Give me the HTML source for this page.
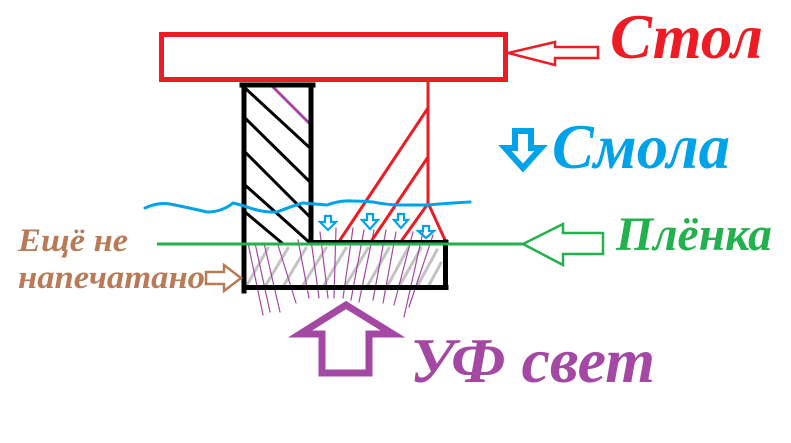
<!DOCTYPE html>
<html>
<head>
<meta charset="utf-8">
<style>
html,body{margin:0;padding:0;background:#fff;}
svg{display:block;}
text{font-family:"Liberation Serif","DejaVu Serif",serif;font-weight:bold;font-style:italic;}
</style>
</head>
<body>
<svg width="791" height="443" viewBox="0 0 791 443" xmlns="http://www.w3.org/2000/svg">
<rect x="0" y="0" width="791" height="443" fill="#fff"/>

<!-- gray hatch in printed zone -->
<g stroke="#c3c3c3" stroke-width="3" stroke-linecap="round">
<line x1="247" y1="285" x2="268" y2="248"/>
<line x1="266" y1="285" x2="288" y2="248"/>
<line x1="284" y1="285" x2="306" y2="248"/>
<line x1="303" y1="285" x2="326" y2="248"/>
<line x1="324" y1="285" x2="346" y2="248"/>
<line x1="346" y1="285" x2="368" y2="248"/>
<line x1="368" y1="285" x2="389" y2="248"/>
<line x1="388" y1="285" x2="408" y2="248"/>
<line x1="400" y1="285" x2="421" y2="248"/>
<line x1="418" y1="285" x2="437" y2="250"/>
<line x1="429" y1="285" x2="441" y2="263"/>
</g>

<!-- purple rays -->
<g stroke="#a349a4" stroke-width="1.2" stroke-linecap="round">
<line x1="248" y1="243" x2="263" y2="315"/>
<line x1="255" y1="243" x2="270" y2="312"/>
<line x1="264" y1="243" x2="280" y2="312"/>
<line x1="278" y1="245" x2="296" y2="303"/>
<line x1="298" y1="240" x2="309" y2="298"/>
<line x1="311" y1="240" x2="319" y2="298"/>
<line x1="320" y1="232" x2="328" y2="298"/>
<line x1="336" y1="228" x2="334" y2="298"/>
<line x1="353" y1="228" x2="343" y2="298"/>
<line x1="364" y1="230" x2="351" y2="300"/>
<line x1="374" y1="230" x2="359" y2="302"/>
<line x1="386" y1="230" x2="373" y2="300"/>
<line x1="396" y1="232" x2="383" y2="303"/>
<line x1="413" y1="232" x2="394" y2="305"/>
<line x1="423" y1="232" x2="404" y2="317"/>
<line x1="433" y1="235" x2="409" y2="307"/>
</g>

<!-- red table -->
<rect x="161.5" y="34.5" width="344" height="45" fill="none" stroke="#ed1c24" stroke-width="5"/>
<g stroke="#ed1c24" stroke-width="3" stroke-linecap="round" fill="none">
<line x1="428" y1="82" x2="428" y2="205"/>
<line x1="428" y1="108" x2="340" y2="240"/>
<line x1="428" y1="157" x2="372" y2="240"/>
<line x1="427" y1="205" x2="402" y2="240"/>
<line x1="429" y1="205" x2="445" y2="240"/>
</g>
<!-- red arrow -->
<path d="M598,47 L555,47 L555,42 L508,53 L555,65 L555,58 L598,58 Z" fill="none" stroke="#ed1c24" stroke-width="2.5" stroke-linejoin="miter"/>

<!-- black hatch lines -->
<g stroke="#000" stroke-width="3" stroke-linecap="round">
<line x1="245" y1="88" x2="310" y2="148"/>
<line x1="245" y1="118" x2="310" y2="182"/>
<line x1="245" y1="152" x2="310" y2="217"/>
<line x1="245" y1="185" x2="309" y2="242"/>
<line x1="245" y1="212" x2="282" y2="243"/>
</g>
<!-- purple small line -->
<line x1="273" y1="87" x2="309" y2="123" stroke="#a349a4" stroke-width="3" stroke-linecap="round"/>

<!-- black L shape -->
<g stroke="#000" stroke-width="5" stroke-linecap="square" fill="none">
<line x1="244" y1="85" x2="244" y2="291"/>
<line x1="242" y1="85" x2="313" y2="85"/>
<line x1="311" y1="85" x2="311" y2="242"/>
<line x1="311" y1="242.5" x2="446" y2="242.5"/>
<line x1="445.5" y1="242" x2="445.5" y2="287"/>
<line x1="244" y1="287.5" x2="446" y2="287.5"/>
</g>

<!-- green film line -->
<line x1="157" y1="244" x2="523" y2="244" stroke="#22b14c" stroke-width="3"/>
<path d="M603,233 L563,233 L563,224 L523,244 L563,265 L563,254 L603,254 Z" fill="none" stroke="#22b14c" stroke-width="2.5" stroke-linejoin="miter"/>

<!-- blue wave -->
<path d="M145,208 Q158,202 170,204 Q190,208 207,212 Q222,212 233,203 Q242,205 250,208 Q265,213 277,212 Q292,206 303,203 Q316,204 327,205 Q340,200 353,201 Q363,201 373,202 Q388,205 400,205 Q415,205 427,205 Q450,203 470,202" fill="none" stroke="#00a2e8" stroke-width="3" stroke-linecap="round"/>

<!-- small blue arrows -->
<g fill="none" stroke="#00a2e8" stroke-width="2.2" stroke-linejoin="miter">
<path d="M325,216 L331,216 L331,222 L336,222 L328,230 L320,222 L325,222 Z"/>
<path d="M367,214 L373,214 L373,220 L378,220 L370,229 L362,220 L367,220 Z"/>
<path d="M398,214 L404,214 L404,220 L408,220 L401,228 L394,220 L398,220 Z"/>
<path d="M423,226 L429,226 L429,231 L434,231 L426,238 L418,231 L423,231 Z"/>
</g>

<!-- Смола arrow -->
<path d="M515,131 L531,131 L531,148 L541,148 L523,168 L505,148 L515,148 Z" fill="none" stroke="#00a2e8" stroke-width="6" stroke-linejoin="miter"/>

<!-- brown arrow -->
<path d="M206,272 L224,272 L224,265 L241,278 L224,291 L224,284 L206,284 Z" fill="none" stroke="#b97a57" stroke-width="2.5" stroke-linejoin="miter"/>

<!-- purple UV arrow -->
<path d="M346,305 L393,334 L369,334 L369,373 L322,373 L322,334 L300,334 Z" fill="none" stroke="#a349a4" stroke-width="7" stroke-linejoin="miter"/>

<!-- labels -->
<text x="610" y="58" font-size="63" fill="#ed1c24" textLength="153" lengthAdjust="spacingAndGlyphs">Стол</text>
<text x="552" y="168" font-size="63" fill="#00a2e8" textLength="178" lengthAdjust="spacingAndGlyphs">Смола</text>
<text x="616" y="250" font-size="48" fill="#22b14c" textLength="156" lengthAdjust="spacingAndGlyphs">Плёнка</text>
<text x="410" y="382" font-size="63" fill="#a349a4" textLength="245" lengthAdjust="spacingAndGlyphs">УФ свет</text>
<text x="18" y="251" font-size="33" fill="#b97a57" textLength="110" lengthAdjust="spacingAndGlyphs">Ещё не</text>
<text x="18" y="288" font-size="33" fill="#b97a57" textLength="187" lengthAdjust="spacingAndGlyphs">напечатано</text>
</svg>
</body>
</html>
